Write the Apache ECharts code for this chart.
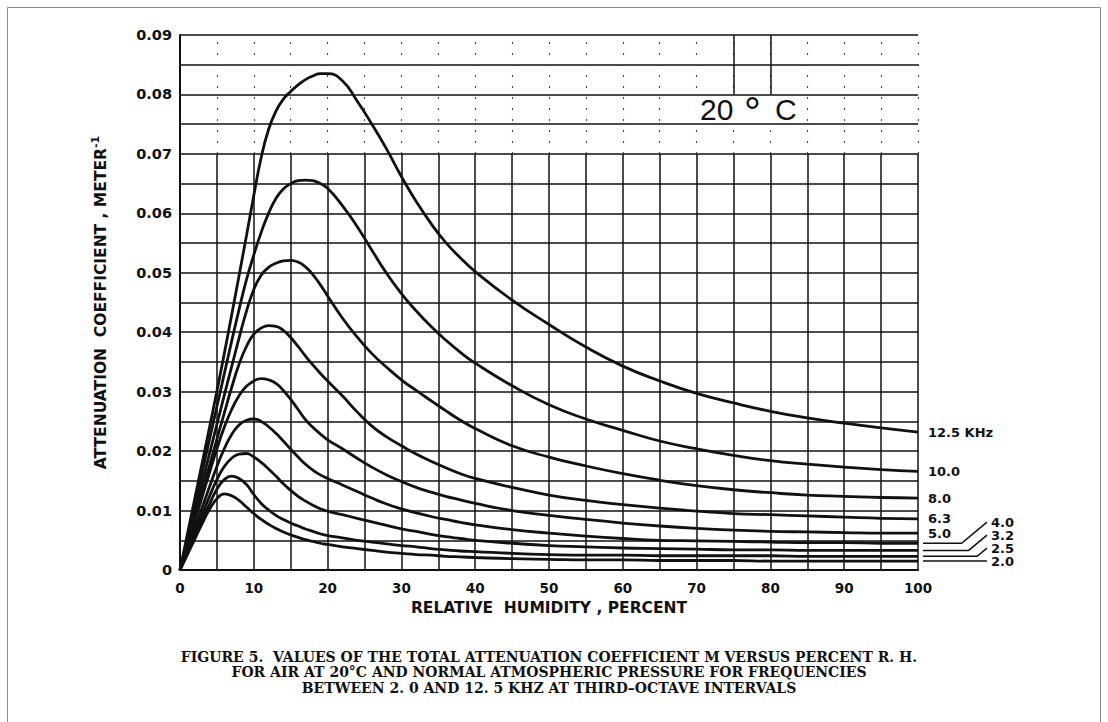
<!DOCTYPE html>
<html>
<head>
<meta charset="utf-8">
<script src="https://cdn.jsdelivr.net/npm/echarts@6/dist/echarts.min.js"></script>
<style>
  html, body { margin: 0; padding: 0; background: #fff; }
  #chart { width: 1108px; height: 722px; }
</style>
</head>
<body>
<div id="chart"></div>
<script>
// Relative humidity (percent) at which every curve is sampled
const RH = [0,1,2,3,4,5,6,7,8,9,10,11,12,13,14,15,16,17,18,19,20,
            22,24,26,28,30,32,34,36,38,40,
            45,50,55,60,65,70,75,80,85,90,95,100];

// Third-octave frequencies (kHz)
const FREQS = ['2.0','2.5','3.2','4.0','5.0','6.3','8.0','10.0','12.5'];

// Total attenuation coefficient m (1/meter) for each frequency
const M_2_0  = [0,0.0026,0.0052,0.0078,0.0102,0.0120,0.0128,0.0125,0.0117,0.0106,0.0095,0.0085,0.0077,0.0070,0.0064,0.0059,0.0055,0.0051,0.0048,0.0045,0.0043,
                0.0039,0.0036,0.0033,0.0030,0.0028,0.0026,0.0025,0.0023,0.0022,0.0021,
                0.0019,0.0018,0.0017,0.0017,0.0016,0.0016,0.0016,0.0015,0.0015,0.0015,0.0015,0.0015];
const M_2_5  = [0,0.0028,0.0056,0.0084,0.0111,0.0136,0.0152,0.0158,0.0154,0.0144,0.0127,0.0112,0.0101,0.0092,0.0085,0.0079,0.0074,0.0069,0.0065,0.0061,0.0058,
                0.0054,0.0050,0.0047,0.0044,0.0041,0.0039,0.0036,0.0034,0.0032,0.0031,
                0.0028,0.0026,0.0025,0.0025,0.0024,0.0024,0.0024,0.0024,0.0023,0.0023,0.0023,0.0023];
const M_3_2  = [0,0.0031,0.0062,0.0093,0.0124,0.0152,0.0174,0.0188,0.0195,0.0196,0.0190,0.0181,0.0170,0.0158,0.0145,0.0134,0.0124,0.0116,0.0109,0.0103,0.0099,
                0.0093,0.0087,0.0081,0.0075,0.0069,0.0065,0.0060,0.0056,0.0053,0.0050,
                0.0045,0.0041,0.0039,0.0037,0.0036,0.0035,0.0034,0.0034,0.0033,0.0033,0.0033,0.0033];
const M_4_0  = [0,0.0035,0.0070,0.0105,0.0140,0.0174,0.0204,0.0228,0.0244,0.0252,0.0254,0.0250,0.0241,0.0230,0.0217,0.0203,0.0190,0.0178,0.0168,0.0160,0.0154,
                0.0143,0.0132,0.0121,0.0111,0.0103,0.0096,0.0090,0.0085,0.0080,0.0076,
                0.0068,0.0062,0.0057,0.0053,0.0050,0.0049,0.0048,0.0047,0.0046,0.0046,0.0045,0.0045];
const M_5_0  = [0,0.0041,0.0082,0.0123,0.0164,0.0204,0.0240,0.0270,0.0293,0.0309,0.0318,0.0322,0.0320,0.0314,0.0302,0.0287,0.0270,0.0253,0.0240,0.0229,0.0219,
                0.0204,0.0188,0.0173,0.0160,0.0149,0.0139,0.0131,0.0124,0.0118,0.0112,
                0.0100,0.0092,0.0085,0.0079,0.0074,0.0070,0.0067,0.0065,0.0064,0.0063,0.0062,0.0062];
const M_6_3  = [0,0.0044,0.0088,0.0132,0.0176,0.0220,0.0264,0.0307,0.0346,0.0376,0.0397,0.0407,0.0411,0.0410,0.0403,0.0391,0.0376,0.0360,0.0345,0.0331,0.0318,
                0.0293,0.0266,0.0242,0.0224,0.0209,0.0195,0.0183,0.0172,0.0162,0.0154,
                0.0139,0.0126,0.0117,0.0110,0.0104,0.0099,0.0095,0.0093,0.0091,0.0089,0.0087,0.0086];
const M_8_0  = [0,0.0049,0.0098,0.0147,0.0196,0.0245,0.0294,0.0342,0.0390,0.0435,0.0472,0.0496,0.0509,0.0516,0.0520,0.0521,0.0518,0.0510,0.0497,0.0480,0.0461,
                0.0424,0.0392,0.0364,0.0341,0.0320,0.0302,0.0285,0.0268,0.0252,0.0238,
                0.0209,0.0190,0.0175,0.0162,0.0151,0.0142,0.0135,0.0130,0.0126,0.0124,0.0122,0.0121];
const M_10_0 = [0,0.0055,0.0110,0.0165,0.0220,0.0275,0.0330,0.0385,0.0438,0.0488,0.0530,0.0568,0.0600,0.0625,0.0641,0.0650,0.0655,0.0656,0.0655,0.0650,0.0642,
                0.0613,0.0578,0.0538,0.0499,0.0465,0.0436,0.0410,0.0387,0.0366,0.0348,
                0.0310,0.0278,0.0254,0.0235,0.0217,0.0204,0.0193,0.0184,0.0178,0.0173,0.0169,0.0166];
const M_12_5 = [0,0.0060,0.0120,0.0180,0.0240,0.0301,0.0364,0.0429,0.0495,0.0562,0.0630,0.0694,0.0741,0.0772,0.0792,0.0805,0.0816,0.0825,0.0831,0.0835,0.0835,
                0.0823,0.0789,0.0750,0.0708,0.0662,0.0620,0.0583,0.0551,0.0525,0.0502,
                0.0454,0.0413,0.0375,0.0343,0.0318,0.0297,0.0281,0.0267,0.0256,0.0247,0.0239,0.0232];

const CURVES = [M_2_0, M_2_5, M_3_2, M_4_0, M_5_0, M_6_3, M_8_0, M_10_0, M_12_5];

// Curve names printed at the right-hand end
const CURVE_LABELS = ['2.0','2.5','3.2','4.0','5.0','6.3','8.0','10.0','12.5 KHz'];
// Curves whose names sit in a stack joined by leader lines
const STACKED = ['2.0','2.5','3.2','4.0'];

// Axis ticks
const X_TICKS = [0,5,10,15,20,25,30,35,40,45,50,55,60,65,70,75,80,85,90,95,100];
const X_LABELS = ['0','10','20','30','40','50','60','70','80','90','100'];
const Y_LABELS = ['0','0.01','0.02','0.03','0.04','0.05','0.06','0.07','0.08','0.09'];

const TEXT_FONT = 'DejaVu Sans';
const INK = '#111';

const chart = echarts.init(document.getElementById('chart'), null, { renderer: 'svg' });

// Vertical rulings: solid in the lower chart, broken near the top
const SOLID_TOP = 0.07;
const ruleSegments = [];
X_TICKS.filter(x => x > 0).forEach(x => {
  ruleSegments.push([
    { coord: [x, 0], lineStyle: { color: INK, width: 1.5, type: 'solid' } },
    { coord: [x, SOLID_TOP] }
  ]);
  ruleSegments.push([
    { coord: [x, SOLID_TOP], lineStyle: { color: '#444', width: 1.1, type: [2, 9] } },
    { coord: [x, 0.09] }
  ]);
});
// The two rulings that frame the temperature box at the top
[75, 80].forEach(x => {
  ruleSegments.push([
    { coord: [x, 0.08], lineStyle: { color: INK, width: 1.5, type: 'solid' } },
    { coord: [x, 0.09] }
  ]);
});

const curveSeries = CURVES.map((vals, i) => ({
  type: 'line',
  name: FREQS[i],
  data: RH.map((h, j) => [h, vals[j]]),
  smooth: 0.5,
  showSymbol: false,
  symbol: 'none',
  silent: true,
  animation: false,
  z: 5,
  lineStyle: { color: INK, width: 2.8 },
  endLabel: {
    show: STACKED.indexOf(FREQS[i]) < 0,
    formatter: CURVE_LABELS[i],
    distance: 10,
    color: INK,
    fontFamily: TEXT_FONT,
    fontWeight: 'bold',
    fontSize: 13
  }
}));

const option = {
  backgroundColor: '#fff',
  animation: false,
  grid: { left: 180, top: 35, width: 738, height: 535, containLabel: false },
  xAxis: {
    type: 'value',
    min: 0, max: 100, interval: 5,
    name: 'RELATIVE  HUMIDITY , PERCENT',
    nameLocation: 'middle',
    nameGap: 28,
    nameTextStyle: { fontFamily: TEXT_FONT, fontWeight: 'bold', fontSize: 15.5, color: INK },
    axisLine: { show: true, onZero: false, lineStyle: { color: INK, width: 2 } },
    axisTick: { show: false },
    splitLine: { show: false },
    axisLabel: {
      margin: 11,
      fontFamily: TEXT_FONT, fontWeight: 'bold', fontSize: 13.5, color: INK,
      formatter: v => (v % 10 === 0 ? X_LABELS[v / 10] : '')
    }
  },
  yAxis: {
    type: 'value',
    min: 0, max: 0.09, interval: 0.005,
    name: '{a|ATTENUATION  COEFFICIENT , METER}{s|-1}',
    nameLocation: 'middle',
    nameRotate: 90,
    nameGap: 68,
    nameTextStyle: {
      rich: {
        a: { fontFamily: TEXT_FONT, fontWeight: 'bold', fontSize: 15.5, color: INK, lineHeight: 22 },
        s: { fontFamily: TEXT_FONT, fontWeight: 'bold', fontSize: 11, color: INK, verticalAlign: 'top', lineHeight: 12 }
      }
    },
    axisLine: { show: true, onZero: false, lineStyle: { color: INK, width: 2 } },
    axisTick: { show: false },
    splitLine: { show: true, lineStyle: { color: INK, width: 1.5 } },
    axisLabel: {
      margin: 8,
      fontFamily: TEXT_FONT, fontWeight: 'bold', fontSize: 14.5, color: INK,
      formatter: v => {
        const k = Math.round(v * 1000);
        return k % 10 === 0 ? Y_LABELS[k / 10] : '';
      }
    }
  },
  series: [
    {
      type: 'line',
      name: 'rulings',
      data: [],
      silent: true,
      z: 2,
      markLine: {
        silent: true,
        symbol: ['none', 'none'],
        animation: false,
        label: { show: false },
        data: ruleSegments
      }
    }
  ].concat(curveSeries),
  graphic: []
};

chart.setOption(option);

function decorate() {
  const items = [];
  const last = RH.length - 1;

  // Stacked names for the lowest curves, joined to the curve ends by leader lines
  const LABEL_X = 991;
  const KNEE_LIMIT = 987;
  const STEP = 13;
  const baseIdx = FREQS.indexOf(STACKED[0]);
  const baseY = chart.convertToPixel({ gridIndex: 0 }, [RH[last], CURVES[baseIdx][last]])[1];
  STACKED.forEach((f, k) => {
    const idx = FREQS.indexOf(f);
    const end = chart.convertToPixel({ gridIndex: 0 }, [RH[last], CURVES[idx][last]]);
    const labelY = baseY - k * STEP;
    const rise = Math.max(0, end[1] - labelY);
    const kneeX = KNEE_LIMIT - rise * 1.2;
    items.push({
      type: 'polyline', silent: true, z: 20,
      shape: { points: [[end[0] + 5, end[1]], [kneeX, end[1]], [KNEE_LIMIT, labelY]] },
      style: { stroke: INK, lineWidth: 1.5, fill: null }
    });
    items.push({
      type: 'text', silent: true, z: 20, x: LABEL_X, y: labelY,
      style: {
        text: CURVE_LABELS[idx], fill: INK,
        font: 'bold 13px "DejaVu Sans"',
        textAlign: 'left', textVerticalAlign: 'middle'
      }
    });
  });

  // Temperature tag in the upper right of the chart
  items.push({
    type: 'rect', silent: true, z: 20,
    shape: { x: 690, y: 97, width: 112, height: 26 },
    style: { fill: '#fff', stroke: null }
  });
  items.push({
    type: 'text', silent: true, z: 21, x: 700, y: 109.5,
    style: { text: '20', fill: INK, font: '30px "Liberation Sans"', textAlign: 'left', textVerticalAlign: 'middle' }
  });
  items.push({
    type: 'text', silent: true, z: 21, x: 744, y: 112,
    style: { text: '°', fill: INK, font: '42px "Liberation Sans"', textAlign: 'left', textVerticalAlign: 'middle' }
  });
  items.push({
    type: 'text', silent: true, z: 21, x: 775, y: 109.5,
    style: { text: 'C', fill: INK, font: '30px "Liberation Sans"', textAlign: 'left', textVerticalAlign: 'middle' }
  });

  // Figure caption
  items.push({
    type: 'text', silent: true, x: 549, y: 649,
    style: {
      text: 'FIGURE 5.  VALUES OF THE TOTAL ATTENUATION COEFFICIENT M VERSUS PERCENT R. H.\n' +
            'FOR AIR AT 20°C AND NORMAL ATMOSPHERIC PRESSURE FOR FREQUENCIES\n' +
            'BETWEEN 2. 0 AND 12. 5 KHZ AT THIRD–OCTAVE INTERVALS',
      fill: INK,
      font: 'bold 14px "DejaVu Serif"',
      lineHeight: 15.5,
      textAlign: 'center',
      textVerticalAlign: 'top'
    }
  });

  // Page frame
  items.push({
    type: 'rect', silent: true,
    shape: { x: 7.5, y: 7.5, width: 1093, height: 730 },
    style: { stroke: '#8a8a8a', lineWidth: 1, fill: null }
  });

  chart.setOption({ graphic: items });
}

decorate();
</script>
</body>
</html>
